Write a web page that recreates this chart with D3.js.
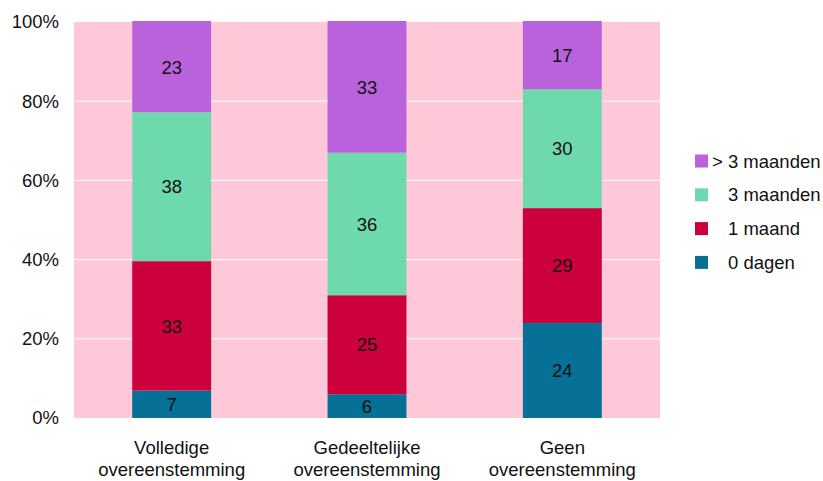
<!DOCTYPE html>
<html>
<head>
<meta charset="utf-8">
<script src="https://cdn.jsdelivr.net/npm/d3@7"></script>
<style>
  body { margin: 0; background: #fff; }
  text { font-family: "Liberation Sans", Arial, sans-serif; fill: #111; }
</style>
</head>
<body>
<div id="chart"></div>
<script>
// categories (two-line labels) and series, bottom to top
let categories = ["Volledige overeenstemming", "Gedeeltelijke overeenstemming", "Geen overeenstemming"]
let categoryLines = [["Volledige", "overeenstemming"], ["Gedeeltelijke", "overeenstemming"], ["Geen", "overeenstemming"]]
let seriesNames = ["0 dagen", "1 maand", "3 maanden", "> 3 maanden"]
let dagen0 = [7, 6, 24]
let maand1 = [33, 25, 29]
let maanden3 = [38, 36, 30]
let maandenMeer3 = [23, 33, 17]
let yTicks = [0, 0.2, 0.4, 0.6, 0.8, 1]

let colors = ["#077096", "#cc003d", "#6fd9ae", "#ba62dc"]
let fontSize = "18.5px"

let width = 823, height = 481
let margin = {top: 22, right: 163, bottom: 63, left: 74}

let svg = d3.select("#chart").append("svg")
    .attr("width", width)
    .attr("height", height)

// build rows for the stack
let seriesValues = [dagen0, maand1, maanden3, maandenMeer3]
let rows = categories.map((c, i) => {
    let row = {category: c}
    seriesNames.forEach((s, j) => { row[s] = seriesValues[j][i] })
    return row
})
let stacked = d3.stack().keys(seriesNames).offset(d3.stackOffsetExpand)(rows)

let xScale = d3.scaleBand()
    .domain(categories)
    .range([margin.left, width - margin.right])
    .paddingInner(0.596)
    .paddingOuter(0.298)
let yScale = d3.scaleLinear()
    .domain([0, 1])
    .range([height - margin.bottom, margin.top])

// plot background
svg.append("rect")
    .attr("x", margin.left)
    .attr("y", margin.top)
    .attr("width", width - margin.left - margin.right)
    .attr("height", height - margin.top - margin.bottom)
    .attr("fill", "#ffc8d8")

// gridlines
svg.append("g").selectAll("line").data(yTicks.slice(1, -1))
    .join("line")
    .attr("x1", margin.left)
    .attr("x2", width - margin.right)
    .attr("y1", d => yScale(d))
    .attr("y2", d => yScale(d))
    .attr("stroke", "#fff")
    .attr("stroke-width", 1)

// y axis labels
let yAxis = d3.axisLeft(yScale).tickValues(yTicks).tickFormat(d3.format(".0%")).tickSize(0).tickPadding(15)
let yAx = svg.append("g")
    .attr("transform", "translate(" + margin.left + ",0)")
    .call(yAxis)
yAx.select(".domain").remove()
yAx.selectAll("text")
    .style("font-size", fontSize)
    .style("font-family", "Liberation Sans, Arial, sans-serif")
    .attr("fill", "#111")

// bars
let layers = svg.append("g").selectAll("g").data(stacked)
    .join("g")
    .attr("fill", (d, i) => colors[i])
layers.selectAll("rect").data(d => d.map(v => ({v: v, cat: v.data.category})))
    .join("rect")
    .attr("x", d => xScale(d.cat))
    .attr("width", xScale.bandwidth())
    .attr("y", d => yScale(d.v[1]) - (d.v[1] >= 0.999 ? 1 : 0))
    .attr("height", d => yScale(d.v[0]) - yScale(d.v[1]) + (d.v[1] >= 0.999 ? 1 : 0))

// value labels
layers.selectAll("text").data((d, i) => d.map(v => ({v: v, cat: v.data.category, val: seriesValues[i][categories.indexOf(v.data.category)]})))
    .join("text")
    .attr("x", d => xScale(d.cat) + xScale.bandwidth() / 2)
    .attr("y", d => (yScale(d.v[0]) + yScale(d.v[1])) / 2)
    .attr("dy", "0.36em")
    .attr("text-anchor", "middle")
    .style("font-size", fontSize)
    .text(d => d.val)

// category labels
let catLabels = svg.append("g").selectAll("text").data(categories)
    .join("text")
    .attr("text-anchor", "middle")
    .style("font-size", fontSize)
catLabels.each(function (c, i) {
    let t = d3.select(this)
    categoryLines[i].forEach((line, k) => {
        t.append("tspan")
            .attr("x", xScale(c) + xScale.bandwidth() / 2)
            .attr("y", 454 + k * 22)
            .text(line)
    })
})

// legend, top entry is the last series
let legend = svg.append("g").attr("transform", "translate(695,0)")
let legendItems = seriesNames.slice().reverse()
legendItems.forEach((name, i) => {
    let cy = 161 + i * 33.8
    legend.append("rect")
        .attr("x", 0)
        .attr("y", cy - 6.5)
        .attr("width", 13)
        .attr("height", 13)
        .attr("fill", colors[seriesNames.indexOf(name)])
    let startsWithGt = name.startsWith(">")
    legend.append("text")
        .attr("x", startsWithGt ? 17 : 33)
        .attr("y", cy)
        .attr("dy", "0.36em")
        .style("font-size", fontSize)
        .text(name)
})
</script>
</body>
</html>
